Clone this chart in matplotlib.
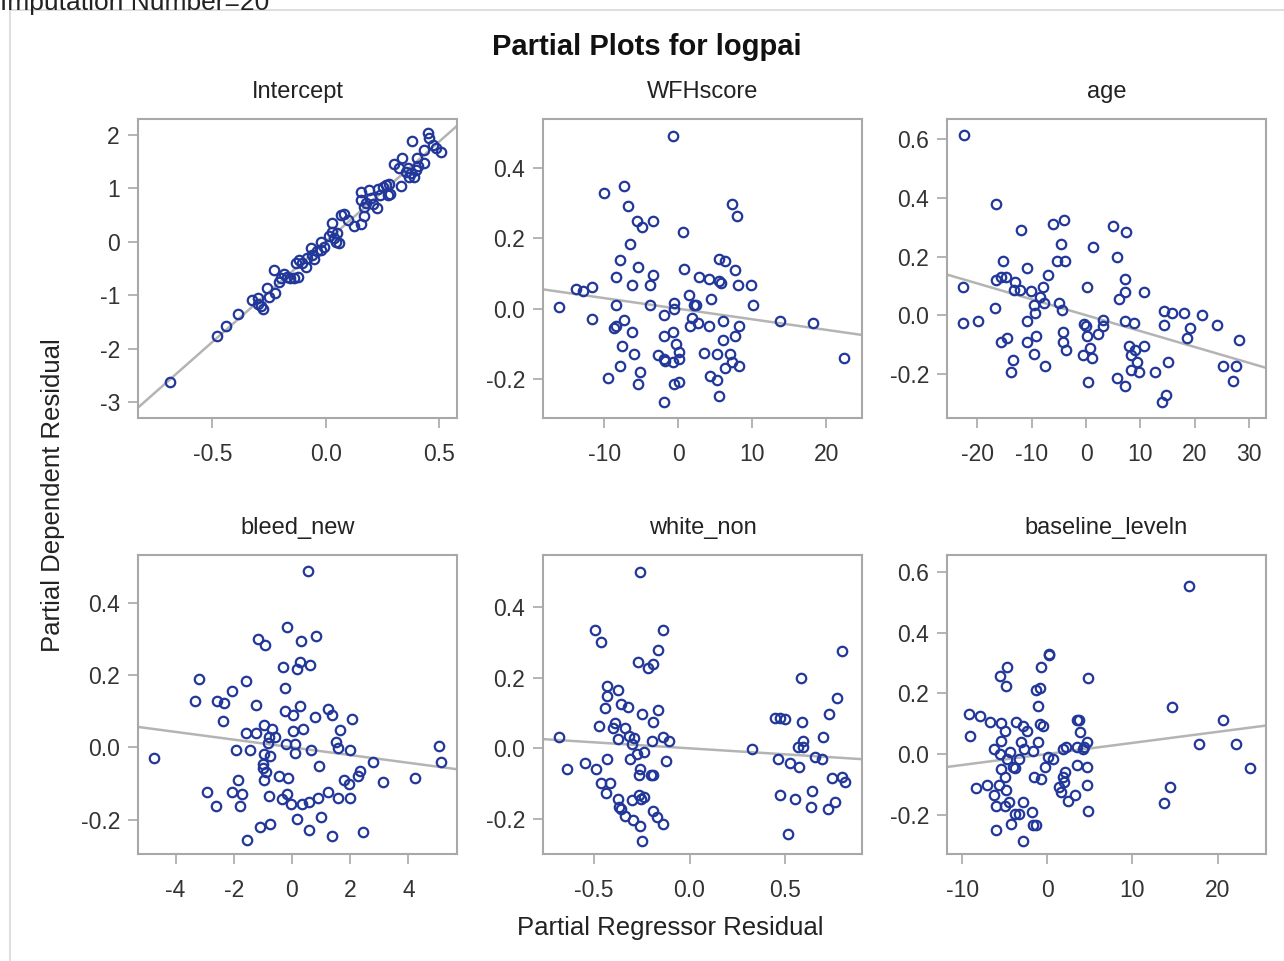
import numpy as np
import matplotlib
matplotlib.use('Agg')
import matplotlib.pyplot as plt
from matplotlib.patches import Rectangle

plt.rcParams['font.family'] = ['Liberation Sans', 'DejaVu Sans']
plt.rcParams['axes.unicode_minus'] = False

# panel titles and tick values
titles = ['Intercept', 'WFHscore', 'age', 'bleed_new', 'white_non', 'baseline_leveln']
xticks = [[-0.5, 0.0, 0.5], [-10, 0, 10, 20], [-20, -10, 0, 10, 20, 30],
          [-4, -2, 0, 2, 4], [-0.5, 0.0, 0.5], [-10, 0, 10, 20]]
yticks = [[-3, -2, -1, 0, 1, 2], [-0.2, 0.0, 0.2, 0.4], [-0.2, 0.0, 0.2, 0.4, 0.6],
          [-0.2, 0.0, 0.2, 0.4], [-0.2, 0.0, 0.2, 0.4], [-0.2, 0.0, 0.2, 0.4, 0.6]]
xfmt = ['%.1f', '%d', '%d', '%d', '%.1f', '%d']
yfmt = ['%d', '%.1f', '%.1f', '%.1f', '%.1f', '%.1f']
xlims = [(-0.828, 0.578), (-18.3, 24.8), (-25.6, 33.15), (-5.29, 5.67), (-0.764, 0.899), (-11.8, 25.7)]
ylims = [(-3.29, 2.29), (-0.311, 0.540), (-0.351, 0.670), (-0.295, 0.532), (-0.299, 0.547), (-0.330, 0.656)]

# fitted slopes (lines pass through the origin)
slopes = [3.74, -0.00301, -0.00542, -0.01068, -0.0341, 0.00364]

# partial residuals
intercept_x = [-0.688, -0.482, -0.438, -0.387, -0.326, -0.301, -0.297, -0.287, -0.275, -0.260,
               -0.250, -0.225, -0.228, -0.206, -0.196, -0.184, -0.172, -0.157, -0.140, -0.121,
               -0.132, -0.118, -0.103, -0.088, -0.081, -0.066, -0.059, -0.051, -0.037, -0.022,
               -0.022, -0.007, 0.015, 0.026, 0.029, 0.037, 0.044, 0.051, 0.059, 0.066,
               0.081, 0.096, 0.122, 0.154, 0.169, 0.154, 0.154, 0.169, 0.176, 0.191,
               0.199, 0.206, 0.225, 0.231, 0.240, 0.250, 0.265, 0.272, 0.279, 0.284,
               0.301, 0.324, 0.334, 0.331, 0.353, 0.360, 0.368, 0.375, 0.390, 0.397,
               0.401, 0.407, 0.378, 0.434, 0.434, 0.449, 0.456, 0.471, 0.485, 0.507]
intercept_y = [-2.615, -1.756, -1.582, -1.357, -1.096, -1.046, -1.158, -1.196, -1.264, -0.872,
               -1.027, -0.953, -0.529, -0.747, -0.672, -0.610, -0.660, -0.685, -0.672, -0.654,
               -0.405, -0.349, -0.405, -0.473, -0.311, -0.125, -0.249, -0.324, -0.174, -0.156,
               0.0, -0.093, 0.112, 0.342, 0.187, 0.062, 0.0, 0.156, -0.031, 0.498,
               0.517, 0.405, 0.299, 0.336, 0.486, 0.934, 0.778, 0.654, 0.716, 0.965,
               0.809, 0.697, 0.635, 0.984, 0.872, 1.027, 1.059, 0.872, 1.071, 0.884,
               1.445, 1.370, 1.557, 1.046, 1.308, 1.370, 1.214, 1.276, 1.214, 1.339,
               1.557, 1.420, 1.887, 1.712, 1.463, 2.024, 1.930, 1.806, 1.743, 1.669]

wfh_x = [-0.77, -10.09, -7.30, -6.85, -5.59, -4.91, -3.47, 0.59, 7.25, 7.97,
         -6.53, -7.88, -5.50, -8.42, -3.47, -6.26, -3.78, -13.83, -12.84, -11.71,
         -16.08, -8.42, -3.78, -11.71, -8.65, -8.42, -7.30, -6.26, -7.61, -5.95,
         -7.88, -9.55, -5.50, -5.18, -1.89, -2.79, -1.89, -1.76, -0.77, 0.14,
         0.05, -0.32, -0.77, -1.89, -1.89, -0.54, -0.54, 0.81, 1.40, 2.07,
         2.39, 1.85, 1.62, 2.61, 2.75, 4.10, 5.54, 5.77, 4.41, 4.10,
         5.99, 5.45, 6.35, 7.70, 8.02, 9.82, 10.05, 8.24, 7.70, 5.99,
         3.51, 5.23, 6.98, 7.25, 8.24, 6.31, 4.32, 5.23, 5.45, -0.54,
         0.14, 13.74, 18.15, 22.43]
wfh_y = [0.493, 0.330, 0.348, 0.291, 0.251, 0.234, 0.251, 0.218, 0.297, 0.264,
         0.183, 0.140, 0.118, 0.090, 0.097, 0.068, 0.068, 0.057, 0.050, 0.062,
         0.005, 0.011, 0.011, -0.028, -0.054, -0.049, -0.033, -0.067, -0.106, -0.129,
         -0.163, -0.197, -0.213, -0.180, -0.265, -0.133, -0.142, -0.149, -0.152, -0.142,
         -0.123, -0.101, -0.067, -0.077, -0.017, 0.0, 0.017, 0.114, 0.040, 0.011,
         0.011, -0.027, -0.050, -0.041, 0.090, 0.085, 0.079, 0.074, 0.028, -0.050,
         -0.034, 0.142, 0.136, 0.109, 0.068, 0.068, 0.011, -0.050, -0.078, -0.090,
         -0.125, -0.129, -0.129, -0.152, -0.163, -0.169, -0.191, -0.204, -0.249, -0.213,
         -0.209, -0.034, -0.041, -0.140]

age_x = [-22.41, -16.54, -12.04, -6.05, -4.01, -4.63, -5.43, -3.89, 1.23, 4.94,
         7.41, 5.68, -15.31, -10.86, -6.98, -16.54, -15.74, -14.69, -13.15, -13.27,
         -12.22, -10.19, -7.90, -8.52, -9.57, -7.72, -9.44, -22.72, -16.85, -22.72,
         -19.81, -10.80, -4.94, -4.51, 0.12, 7.22, 7.22, 5.99, 10.62, -15.74,
         -14.51, -10.86, -9.14, -9.57, -13.46, -13.77, -7.59, -4.20, -4.20, -3.70,
         -0.31, 0.0, 0.12, -0.49, 0.74, 1.17, 2.28, 3.09, 3.09, 0.43,
         5.68, 7.22, 7.22, 8.77, 7.84, 9.07, 10.62, 8.33, 9.38, 8.33,
         9.81, 12.78, 15.12, 14.32, 15.86, 18.02, 14.32, 21.42, 19.07, 18.64,
         24.20, 28.21, 25.25, 27.59, 27.16, 14.75, 14.01]
age_y = [0.616, 0.380, 0.291, 0.311, 0.325, 0.243, 0.186, 0.186, 0.234, 0.304,
         0.285, 0.200, 0.186, 0.160, 0.139, 0.120, 0.131, 0.131, 0.112, 0.086,
         0.086, 0.083, 0.097, 0.063, 0.034, 0.043, 0.009, 0.097, 0.023, -0.025,
         -0.019, -0.019, 0.043, 0.017, 0.097, 0.125, 0.078, 0.057, 0.078, -0.091,
         -0.078, -0.091, -0.071, -0.132, -0.154, -0.194, -0.173, -0.059, -0.091, -0.120,
         -0.031, -0.036, -0.071, -0.137, -0.111, -0.146, -0.065, -0.017, -0.036, -0.228,
         -0.214, -0.242, -0.019, -0.025, -0.105, -0.120, -0.105, -0.137, -0.160, -0.188,
         -0.194, -0.194, -0.160, 0.015, 0.009, 0.009, -0.032, 0.002, -0.042, -0.078,
         -0.032, -0.086, -0.173, -0.173, -0.225, -0.274, -0.296]

bleed_x = [0.54, -0.17, -1.17, -0.94, 0.31, 0.82, -0.32, 0.26, 0.17, 0.61,
           -3.18, -1.59, -2.07, -0.25, -3.32, -2.56, -2.32, -1.23, -0.25, 0.03,
           0.26, 0.80, 1.23, 1.38, 2.07, -2.36, -0.95, -0.69, -1.57, -1.23,
           0.03, 0.38, 1.64, -0.80, -0.57, -0.84, -0.20, 0.11, -1.94, -1.44,
           -0.95, -0.77, 0.09, 0.67, 1.52, 1.57, 1.99, -4.75, -0.98, -1.00,
           -0.89, -0.95, 0.92, -0.45, -0.15, -1.87, -2.91, -2.07, -1.70, -2.61,
           -1.80, -0.80, -0.34, -0.17, -0.02, 0.34, 0.57, 0.89, 1.23, 1.57,
           1.99, 1.78, 1.95, 2.33, 2.28, 2.78, 3.13, 4.23, 5.06, 5.11,
           -1.11, -0.75, -1.53, 0.17, 0.60, 1.01, 1.36, 2.44]
bleed_y = [0.487, 0.332, 0.300, 0.283, 0.293, 0.309, 0.223, 0.235, 0.216, 0.229,
           0.189, 0.184, 0.157, 0.163, 0.127, 0.127, 0.123, 0.118, 0.100, 0.090,
           0.113, 0.083, 0.106, 0.089, 0.078, 0.073, 0.062, 0.051, 0.039, 0.040,
           0.044, 0.051, 0.049, 0.028, 0.028, 0.011, 0.009, 0.009, -0.006, -0.006,
           -0.018, -0.025, -0.016, -0.006, 0.016, -0.002, -0.006, -0.029, -0.046, -0.058,
           -0.067, -0.089, -0.051, -0.080, -0.084, -0.089, -0.124, -0.124, -0.129, -0.161,
           -0.161, -0.135, -0.143, -0.129, -0.157, -0.157, -0.152, -0.141, -0.124, -0.140,
           -0.140, -0.089, -0.101, -0.065, -0.080, -0.040, -0.095, -0.084, 0.005, -0.040,
           -0.219, -0.212, -0.255, -0.198, -0.228, -0.194, -0.244, -0.233]

white_x = [-0.257, -0.492, -0.462, -0.140, -0.166, -0.271, -0.218, -0.192, -0.428, -0.372,
           -0.428, -0.358, -0.319, -0.440, -0.248, -0.162, -0.471, -0.387, -0.398, -0.335,
           -0.192, -0.681, -0.375, -0.314, -0.288, -0.300, -0.197, -0.140, -0.108, -0.428,
           -0.311, -0.274, -0.236, -0.122, -0.546, -0.637, -0.489, -0.258, -0.262, -0.201,
           -0.192, -0.462, -0.415, -0.436, -0.375, -0.300, -0.262, -0.236, -0.253, -0.366,
           -0.358, -0.335, -0.297, -0.258, -0.192, -0.171, -0.140, -0.248, 0.323, 0.445,
           0.471, 0.497, 0.579, 0.585, 0.593, 0.567, 0.593, 0.698, 0.729, 0.768,
           0.794, 0.462, 0.524, 0.571, 0.654, 0.689, 0.742, 0.794, 0.812, 0.471,
           0.550, 0.637, 0.634, 0.724, 0.759, 0.515]
white_y = [0.498, 0.335, 0.300, 0.335, 0.278, 0.245, 0.226, 0.239, 0.176, 0.165,
           0.149, 0.125, 0.116, 0.115, 0.097, 0.108, 0.063, 0.071, 0.057, 0.058,
           0.074, 0.033, 0.026, 0.036, 0.028, 0.011, 0.021, 0.033, 0.021, -0.030,
           -0.030, -0.016, -0.011, -0.035, -0.041, -0.058, -0.058, -0.058, -0.075, -0.075,
           -0.075, -0.097, -0.097, -0.125, -0.142, -0.146, -0.132, -0.139, -0.142, -0.167,
           -0.173, -0.192, -0.203, -0.220, -0.176, -0.193, -0.215, -0.261, -0.002, 0.085,
           0.085, 0.082, 0.200, 0.074, 0.022, 0.005, 0.005, 0.033, 0.097, 0.143,
           0.274, -0.030, -0.042, -0.052, -0.024, -0.030, -0.085, -0.080, -0.096, -0.132,
           -0.142, -0.120, -0.165, -0.172, -0.153, -0.243]

base_x = [16.69, 0.20, 0.20, -4.72, -5.55, -4.92, -0.71, -1.30, -0.91, -1.10,
          4.80, 14.65, 20.63, -9.17, -7.87, -6.73, -5.43, -5.04, -3.66, -2.87,
          -2.36, -0.91, -0.51, 3.43, 3.74, 3.82, -9.06, -5.43, -6.22, -4.45,
          -5.55, -3.15, -2.76, -1.69, -1.10, 0.08, 0.67, 1.85, 2.17, 3.43,
          4.21, 4.61, 4.33, -4.72, -3.86, -4.06, -3.39, -5.51, -4.96, -0.31,
          -1.57, -0.71, 3.43, 4.61, 2.05, 1.85, 1.97, 1.34, 1.65, 4.61,
          3.23, 2.44, -8.39, -7.13, -5.63, -4.84, -6.22, -6.02, -4.57, -2.87,
          -5.04, -3.86, -3.39, -1.77, -4.33, -1.69, -1.38, -6.02, -2.87, 4.80,
          17.80, 22.13, 23.78, 14.45, 13.66]
base_y = [0.555, 0.326, 0.330, 0.286, 0.258, 0.225, 0.286, 0.211, 0.219, 0.159,
          0.252, 0.154, 0.112, 0.132, 0.126, 0.104, 0.101, 0.076, 0.104, 0.093,
          0.077, 0.099, 0.093, 0.112, 0.112, 0.071, 0.059, 0.044, 0.016, 0.008,
          0.0, 0.038, 0.015, 0.010, 0.038, -0.011, -0.016, 0.016, 0.024, 0.024,
          0.016, 0.038, 0.024, -0.016, -0.047, -0.042, -0.016, -0.049, -0.077, -0.044,
          -0.077, -0.082, -0.036, -0.042, -0.060, -0.075, -0.093, -0.110, -0.126, -0.102,
          -0.135, -0.154, -0.113, -0.102, -0.102, -0.119, -0.137, -0.171, -0.157, -0.160,
          -0.171, -0.199, -0.199, -0.192, -0.232, -0.236, -0.236, -0.251, -0.286, -0.187,
          0.033, 0.033, -0.047, -0.110, -0.163]

xs = [intercept_x, wfh_x, age_x, bleed_x, white_x, base_x]
ys = [intercept_y, wfh_y, age_y, bleed_y, white_y, base_y]

W, H = 1284, 961
fig = plt.figure(figsize=(W / 100, H / 100), dpi=100)

# outer frame + header that is cut at the top edge, as in the source
fig.patches.append(Rectangle((10 / W, -0.01), 1.0, 1 - 10 / H + 0.01, transform=fig.transFigure,
                             fill=False, edgecolor='#d8d8d8', linewidth=1.2))
fig.text(0.0, 1 - 3 / H, 'Imputation Number=20', fontsize=19, color='#222222',
         ha='left', va='center')

fig.text(647 / W, 1 - 47 / H, 'Partial Plots for logpai', fontsize=21, fontweight='bold',
         color='#111111', ha='center', va='center')

lefts = [138, 543, 947]
tops = [119, 555]
pw, ph = 319, 299
tick_col = '#333333'
spine_col = '#a8a8a8'

for i in range(6):
    r, c = divmod(i, 3)
    left = lefts[c] / W
    bottom = 1 - (tops[r] + ph) / H
    ax = fig.add_axes([left, bottom, pw / W, ph / H])
    ax.set_xlim(*xlims[i])
    ax.set_ylim(*ylims[i])
    xl = np.array(xlims[i])
    ax.plot(xl, slopes[i] * xl, color='#b4b4b4', linewidth=1.8, zorder=1)
    ax.plot(xs[i], ys[i], linestyle='none', marker='o', markersize=6.8,
            markerfacecolor='none', markeredgecolor='#22379a', markeredgewidth=1.6, zorder=2)
    ax.set_xticks(xticks[i])
    ax.set_yticks(yticks[i])
    ax.set_xticklabels([xfmt[i] % v for v in xticks[i]])
    ax.set_yticklabels([yfmt[i] % v for v in yticks[i]])
    ax.tick_params(length=7, width=1.2, color=spine_col, labelcolor=tick_col,
                   labelsize=16.5, pad=6)
    ax.tick_params(axis='x', pad=11)
    for s in ax.spines.values():
        s.set_color(spine_col)
        s.set_linewidth(1.5)
    ax.set_title(titles[i], fontsize=17, color='#222222', pad=15)

fig.text(53 / W, 1 - 495 / H, 'Partial Dependent Residual', rotation=90, fontsize=18.5,
         color='#222222', ha='center', va='center')
fig.text(670 / W, 1 - 928 / H, 'Partial Regressor Residual', fontsize=18.5,
         color='#222222', ha='center', va='center')

plt.savefig('out.png', dpi=100)
plt.close()
